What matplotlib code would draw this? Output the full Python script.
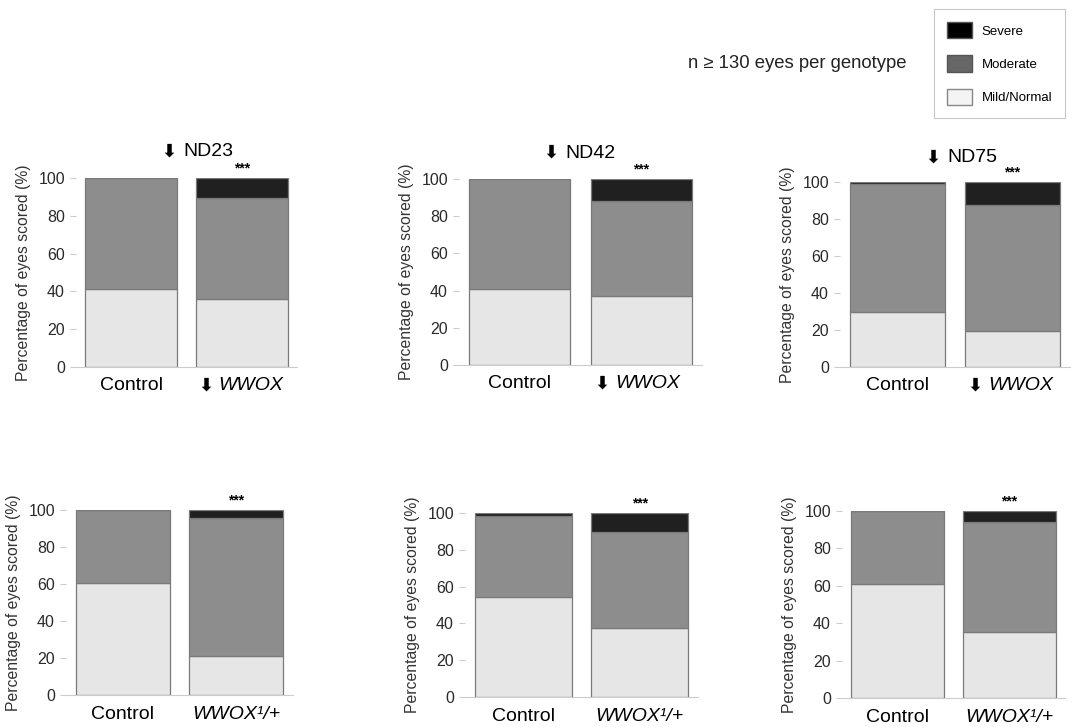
import matplotlib
matplotlib.use("Agg")
import matplotlib.pyplot as plt
from matplotlib.patches import Patch

plt.rcParams['font.family'] = ['Liberation Sans', 'DejaVu Sans']

# percentages: [control, mutant]
titles = ["ND23", "ND42", "ND75", "", "", ""]
mild = [[41.5, 36.0], [40.8, 37.0], [29.6, 19.2],
        [60.8, 21.0], [54.5, 37.3], [60.9, 35.5]]
moderate = [[58.5, 53.2], [59.2, 51.0], [69.1, 68.2],
            [39.2, 74.6], [43.7, 52.2], [39.1, 58.6]]
severe = [[0.0, 10.8], [0.0, 12.0], [1.3, 12.6],
          [0.0, 4.4], [1.8, 10.5], [0.0, 5.9]]
top_labels = ["Control", "WWOX"]
bottom_labels = ["Control", "WWOX¹/+"]
legend_names = ["Severe", "Moderate", "Mild/Normal"]
n_note = "n ≥ 130 eyes per genotype"
arrow = "\u2B07"

c_mild = "#e6e6e6"
c_mod = "#8d8d8d"
c_sev = "#202020"

W, H = 1072, 727
fig = plt.figure(figsize=(W / 100, H / 100), dpi=100)

# axes boxes in pixels: left, right, bottom(y of 0), top(y of 100)
boxes = [(76, 297, 367, 178), (459, 702, 365, 179), (840, 1070, 367, 182),
         (66, 293, 695, 510), (465, 698, 697, 513), (842, 1065, 698, 511)]
# title placement in pixels (left of text, centre y)
title_pos = [(183, 152), (565, 153), (947, 158)]

for i, (l, r, b, t) in enumerate(boxes):
    ax = fig.add_axes([l / W, 1 - b / H, (r - l) / W, (b - t) / H])
    x = [0, 1]
    lo = mild[i]
    mo = moderate[i]
    se = severe[i]
    kw = dict(width=0.83, edgecolor="#7a7a7a", linewidth=0.9)
    ax.bar(x, lo, color=c_mild, **kw)
    ax.bar(x, mo, bottom=lo, color=c_mod, **kw)
    ax.bar(x, se, bottom=[a + m for a, m in zip(lo, mo)], color=c_sev, **kw)
    ax.set_xlim(-0.5, 1.5)
    ax.set_ylim(0, 100)
    ax.set_yticks([0, 20, 40, 60, 80, 100])
    ax.tick_params(axis='y', labelsize=11.5, colors="#cccccc", labelcolor="#2a2a2a",
                   length=4, width=0.8, pad=4)
    ax.tick_params(axis='x', length=0, pad=8)
    for s in ["top", "right", "left"]:
        ax.spines[s].set_visible(False)
    ax.spines["bottom"].set_color("#cccccc")
    ax.set_ylabel("Percentage of eyes scored (%)", fontsize=11.3, color="#333333", labelpad=5)
    ax.set_xticks(x)
    if i < 3:
        xt = ax.get_xaxis_transform()
        ax.set_xticklabels(["", ""])
        ax.text(0, -0.1, top_labels[0], transform=xt,
                ha="center", va="center", fontsize=14)
        ax.text(0.74, -0.1, arrow, transform=xt,
                ha="right", va="center", fontsize=13, family=["DejaVu Sans"],
                fontweight="bold")
        ax.text(0.79, -0.1, top_labels[1], transform=xt,
                ha="left", va="center", fontsize=14, style="italic")
        tx, ty = title_pos[i]
        fig.text((tx - 7) / W, 1 - ty / H, arrow, ha="right", va="center",
                 fontsize=13, family=["DejaVu Sans"], fontweight="bold")
        fig.text(tx / W, 1 - ty / H, titles[i], ha="left", va="center", fontsize=14)
    else:
        ax.set_xticklabels(bottom_labels, fontsize=14)
        ax.get_xticklabels()[1].set_style("italic")
    ax.text(1, 101.5, "***", ha="center", va="bottom", fontsize=10, fontweight="bold")

fig.text(688 / W, 1 - 63 / H, n_note, fontsize=13.3, va="center", ha="left", color="#222222")

handles = [Patch(facecolor="#000000", edgecolor="#555555"),
           Patch(facecolor="#666666", edgecolor="#555555"),
           Patch(facecolor="#f4f4f4", edgecolor="#888888")]
leg = fig.legend(handles, legend_names, loc="upper left",
                 bbox_to_anchor=(934 / W, 1 - 9 / H), fontsize=9.5,
                 frameon=True, fancybox=False, edgecolor="#bbbbbb",
                 handlelength=1.9, handleheight=1.5, labelspacing=1.3,
                 borderpad=1.0, handletextpad=0.7, borderaxespad=0)
leg.get_frame().set_linewidth(0.8)

fig.savefig("out.png", dpi=100, facecolor="white")
